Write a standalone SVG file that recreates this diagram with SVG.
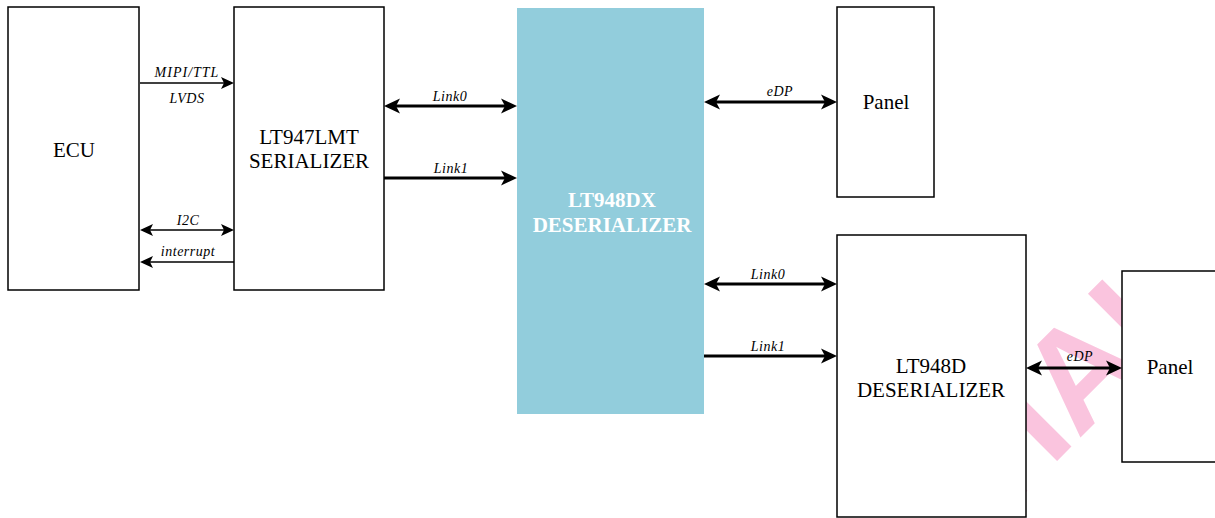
<svg xmlns="http://www.w3.org/2000/svg" width="1215" height="518" viewBox="0 0 1215 518">
<style>
.box{fill:#fff;stroke:#000;stroke-width:1.5}
.name{font-family:"Liberation Serif","Times New Roman",serif;font-size:21px;fill:#000;text-anchor:middle}
.bold{font-weight:bold;fill:#fff}
.lbl{font-family:"Liberation Serif","Times New Roman",serif;font-style:italic;font-size:14px;letter-spacing:0.5px;fill:#000;text-anchor:middle}
.thin{stroke:#000;stroke-width:1.5;fill:none}
.thick{stroke:#000;stroke-width:3;fill:none}
.wm{font-family:"Liberation Sans",Arial,sans-serif;font-weight:bold;font-size:140px;fill:#FAC4DE;text-anchor:end}
</style>
<defs>
<marker id="ah" markerUnits="userSpaceOnUse" viewBox="0 0 13 12" markerWidth="13" markerHeight="12" refX="10" refY="6" orient="auto-start-reverse">
<path d="M0,0 L13,6 L0,12 L3,6 z" fill="#000"/>
</marker>
<marker id="ahb" markerUnits="userSpaceOnUse" viewBox="0 0 16 16" markerWidth="16" markerHeight="16" refX="12" refY="8" orient="auto-start-reverse">
<path d="M0,0.5 L16,8 L0,15.5 L4,8 z" fill="#000"/>
</marker>
</defs>
<rect width="1215" height="518" fill="#fff"/>
<g id="watermark" transform="translate(1210,308) rotate(-45)">
<text class="wm" x="0" y="0">TIAL</text>
</g>
<g id="ecu">
<rect class="box" x="8" y="7" width="131" height="283"/>
<text class="name" x="74" y="157">ECU</text>
</g>
<g id="serializer">
<rect class="box" x="234" y="7" width="150" height="283"/>
<text class="name" x="309" y="144">LT947LMT</text>
<text class="name" x="309" y="168">SERIALIZER</text>
</g>
<g id="lt948dx">
<rect x="517" y="8" width="187" height="406" fill="#92CDDC"/>
<text class="name bold" x="612" y="207">LT948DX</text>
<text class="name bold" x="612" y="232">DESERIALIZER</text>
</g>
<g id="panel1">
<rect class="box" x="837" y="7" width="97" height="190"/>
<text class="name" x="886" y="109">Panel</text>
</g>
<g id="lt948d">
<rect class="box" x="837" y="235" width="189" height="282"/>
<text class="name" x="931" y="373">LT948D</text>
<text class="name" x="931" y="397">DESERIALIZER</text>
</g>
<g id="panel2">
<rect class="box" x="1122" y="271" width="110" height="191"/>
<text class="name" x="1170" y="374">Panel</text>
</g>
<g id="connectors">
<line class="thin" x1="140" y1="83" x2="231" y2="83" marker-end="url(#ah)"/>
<line class="thin" x1="143" y1="230" x2="231" y2="230" marker-start="url(#ah)" marker-end="url(#ah)"/>
<line class="thin" x1="234" y1="262" x2="143" y2="262" marker-end="url(#ah)"/>
<line class="thick" x1="388" y1="106" x2="513" y2="106" marker-start="url(#ahb)" marker-end="url(#ahb)"/>
<line class="thick" x1="384" y1="178" x2="513" y2="178" marker-end="url(#ahb)"/>
<line class="thick" x1="708" y1="102" x2="833" y2="102" marker-start="url(#ahb)" marker-end="url(#ahb)"/>
<line class="thick" x1="708" y1="284" x2="833" y2="284" marker-start="url(#ahb)" marker-end="url(#ahb)"/>
<line class="thick" x1="704" y1="356" x2="833" y2="356" marker-end="url(#ahb)"/>
<line class="thick" x1="1030" y1="368" x2="1118" y2="368" marker-start="url(#ahb)" marker-end="url(#ahb)"/>
<text class="lbl" x="187" y="77" style="letter-spacing:1px">MIPI/TTL</text>
<text class="lbl" x="187" y="103">LVDS</text>
<text class="lbl" x="188" y="225">I2C</text>
<text class="lbl" x="188" y="256">interrupt</text>
<text class="lbl" x="450" y="101">Link0</text>
<text class="lbl" x="451" y="173">Link1</text>
<text class="lbl" x="780" y="96">eDP</text>
<text class="lbl" x="768" y="279">Link0</text>
<text class="lbl" x="768" y="351">Link1</text>
<text class="lbl" x="1080" y="361">eDP</text>
</g>
</svg>
